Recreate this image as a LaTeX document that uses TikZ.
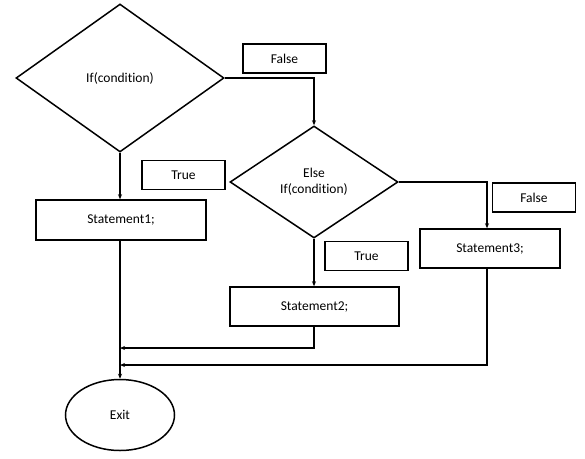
\documentclass[tikz,border=0pt]{standalone}
\usepackage{fontspec}
\setmainfont{Carlito}[Ligatures=NoCommon]
\usetikzlibrary{shapes.geometric,arrows.meta}

\tikzset{
  decision/.style={draw, diamond, line width=1.5pt, inner sep=0pt, align=center},
  stmtbox/.style={draw, rectangle, line width=1.5pt, inner sep=0pt},
  tagbox/.style={draw, rectangle, line width=1.5pt, inner sep=0pt, minimum width=83pt, minimum height=29pt},
  flow/.style={line width=1.3pt, -{Stealth[length=5pt,width=4pt]}}
}

\begin{document}
\begin{tikzpicture}[x=1pt, y=-1pt, font=\fontsize{13.5}{16}\selectfont]
\useasboundingbox (0,0) rectangle (585,458);

%--- Decisions ---
\node[decision, minimum width=208pt, minimum height=148pt] (cond1) at (120,78) {If(condition)};
\node[decision, minimum width=168pt, minimum height=112pt] (cond2) at (314,182) {Else\\If(condition)};

%--- Statements ---
\node[stmtbox, minimum width=170pt, minimum height=40pt] (stmt1) at (121,220) {Statement1;};
\node[stmtbox, minimum width=169pt, minimum height=39pt] (stmt2) at (314.5,306.5) {Statement2;};
\node[stmtbox, minimum width=140pt, minimum height=39pt] (stmt3) at (490,248.5) {Statement3;};

% Exit
\node[draw, ellipse, line width=1.5pt, minimum width=109pt, minimum height=71pt] (exit) at (120,415) {Exit};

%--- Labels ---
\node[tagbox] (false1) at (284.5,58.5) {False};
\node[tagbox] (true1) at (183.5,175) {True};
\node[tagbox] (true2) at (366.5,256) {True};
\node[tagbox] (false2) at (534,197.5) {False};

%--- Connectors ---
\coordinate (join1) at (120,348);
\coordinate (join2) at (120,365);

\draw[flow] (cond1.east) -| (cond2.north);
\draw[flow] (cond1.south) -- (stmt1.north -| cond1.south);
\draw[flow] (stmt1.south -| cond1.south) -- (exit.north);
\draw[flow] (cond2.south) -- (stmt2.north -| cond2.south);
\draw[flow] (cond2.east) -| ([xshift=-3pt]stmt3.north);
\draw[flow] ([xshift=-3pt]stmt3.south) |- (join2);
\draw[flow] (stmt2.south -| cond2.south) |- (join1);

\end{tikzpicture}
\end{document}
